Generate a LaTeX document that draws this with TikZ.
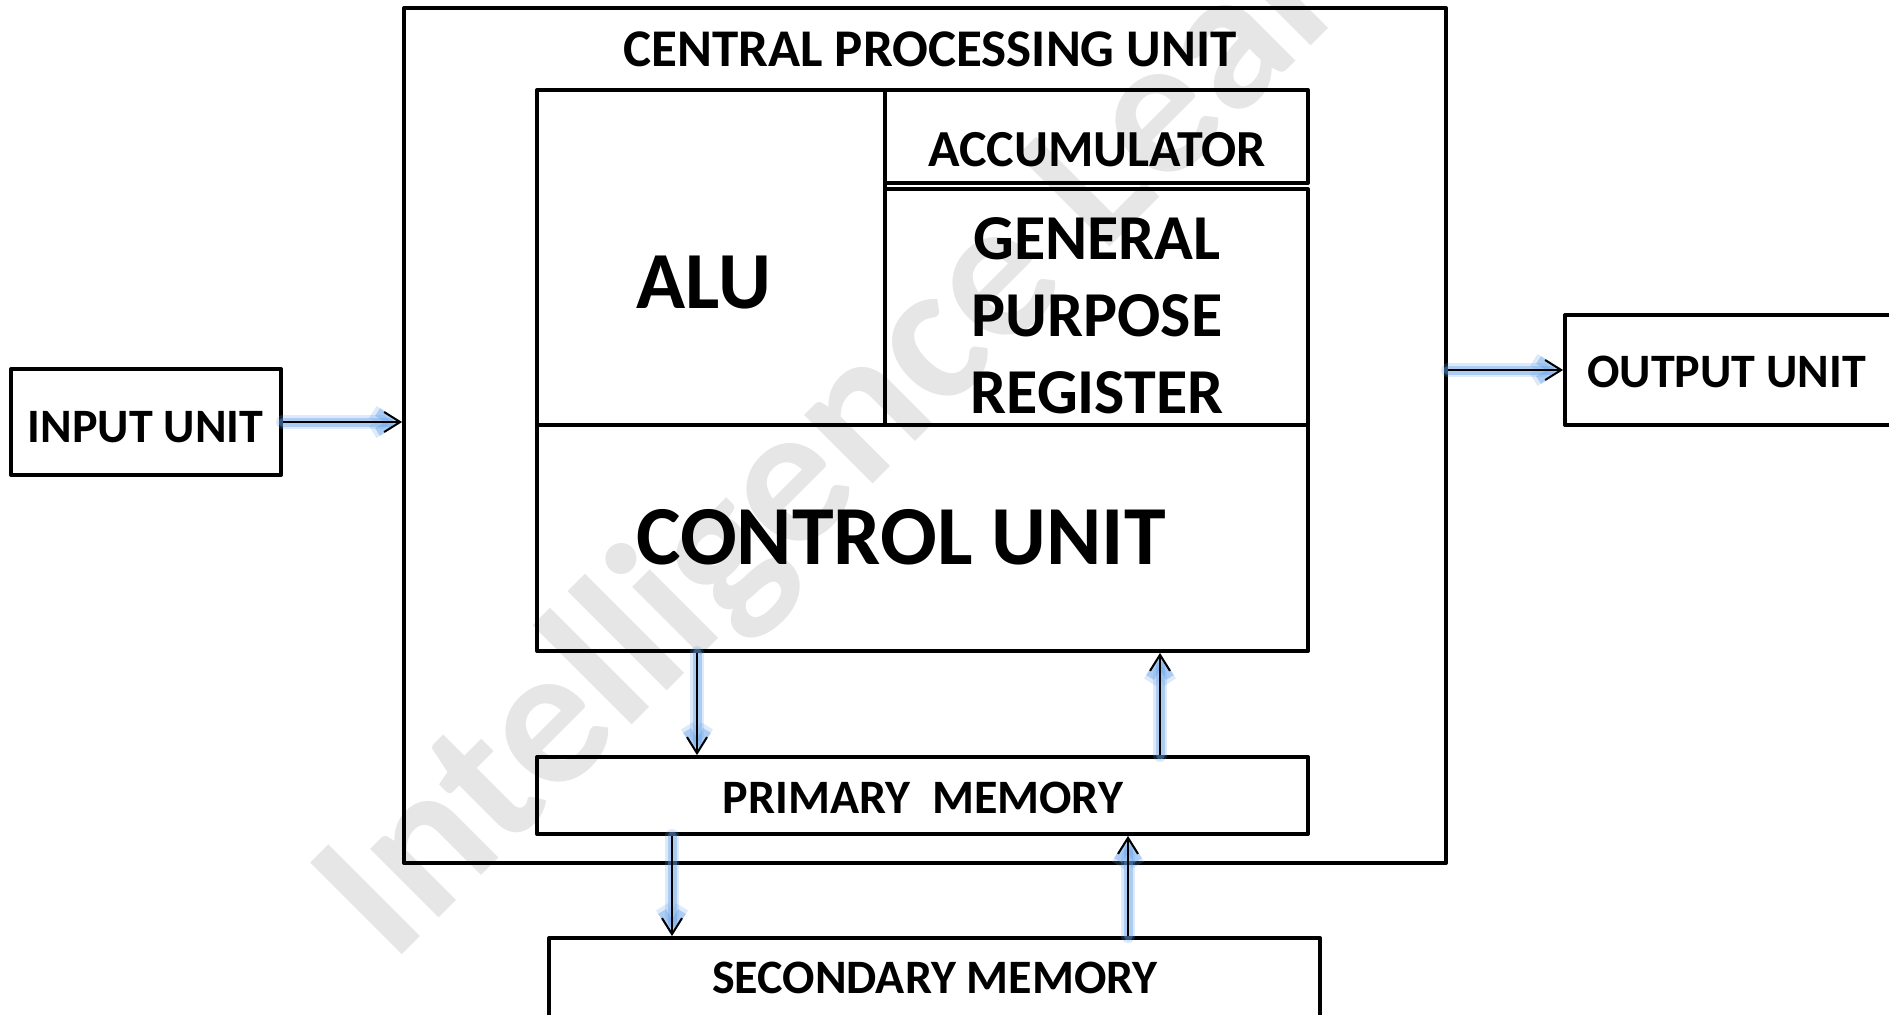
\documentclass[tikz,border=0pt]{standalone}
\usepackage{fontspec}
\setmainfont{Carlito}
\usetikzlibrary{arrows.meta}
\definecolor{glowblue}{RGB}{100,160,232}
\definecolor{wmgray}{RGB}{230,230,230}
\newcommand{\fsz}[2]{\fontsize{#1}{#2}\selectfont}
\begin{document}
\begin{tikzpicture}[x=0.5pt, y=-0.5pt,
  box/.style={draw, line width=2pt, line join=round, inner sep=0pt},
  lbl/.style={inner sep=0pt, font=\bfseries},
  wm/.style={inner sep=0pt, text=wmgray, font=\bfseries\fsz{100}{100}},
  flow/.style={draw, line width=1pt, -{Straight Barb[length=8pt,width=10pt]},
    preaction={draw=glowblue, line width=7pt, opacity=0.22, line cap=round},
    preaction={draw=glowblue, line width=4.5pt, opacity=0.4, line cap=round}}]
\useasboundingbox (0,0) rectangle (1889,1014);
\clip (0,0) rectangle (1889,1014);

% watermark
\node[wm, anchor=base west, rotate=45] (wm) at (392,965) {Intelligence Learning};

% outer processor frame
\node[box, minimum width=521pt, minimum height=427.5pt] (cpu) at (925,435.5) {};
\node[lbl, font=\bfseries\fsz{26.5}{30}] (tcpu) at (930,49.5) {CENTRAL PROCESSING UNIT};

% processor core blocks
\node[box, minimum width=174pt, minimum height=167.5pt] (alu) at (711,257.5) {};
\node[box, minimum width=211.5pt, minimum height=46.5pt] (acc) at (1096.5,136.5) {};
\node[box, minimum width=211.5pt, minimum height=118pt] (gpr) at (1096.5,307) {};
\node[box, minimum width=385.5pt, minimum height=113pt] (cu) at (922.5,538) {};

\node[lbl, font=\bfseries\fsz{40.5}{45}] (talu) at (704,282.5) {ALU};
\node[lbl, font=\bfseries\fsz{26}{30}] (tacc) at (1097,149.5) {ACCUMULATOR};
\node[lbl, font=\bfseries\fsz{32}{38.5}, align=center] (tgpr) at (1097,316) {GENERAL\\PURPOSE\\REGISTER};
\node[lbl, font=\bfseries\fsz{42}{46}] (tcu) at (901,537) {CONTROL UNIT};

% memories
\node[box, minimum width=385.5pt, minimum height=38.5pt] (pm) at (922.5,795.5) {};
\node[lbl, font=\bfseries\fsz{24}{28}] (tpm) at (923,797.5) {PRIMARY\ \ MEMORY};
\node[box, minimum width=385.5pt, minimum height=51pt] (sm) at (934.5,989) {};
\node[lbl, font=\bfseries\fsz{24}{28}] (tsm) at (935,978) {SECONDARY MEMORY};

% input and output
\node[box, minimum width=135pt, minimum height=53pt] (in) at (146,422) {};
\node[lbl, font=\bfseries\fsz{24}{28}] (tin) at (145.5,427) {INPUT UNIT};
\node[box, minimum width=197.5pt, minimum height=55pt] (out) at (1762.5,370) {};
\node[lbl, font=\bfseries\fsz{24}{28}, anchor=west] (tout) at (1587,372) {OUTPUT UNIT};

% data paths
\coordinate (xa) at (697,0);
\coordinate (xb) at (1160,0);
\coordinate (xc) at (672,0);
\coordinate (xd) at (1128,0);
\draw[flow] (in.east) -- (in.east -| cpu.west);
\draw[flow] (out.west -| cpu.east) -- (out.west);
\draw[flow] (xa |- cu.south) -- (xa |- pm.north);
\draw[flow] (xb |- pm.north) -- (xb |- cu.south);
\draw[flow] (xc |- pm.south) -- (xc |- sm.north);
\draw[flow] (xd |- sm.north) -- (xd |- pm.south);
\end{tikzpicture}
\end{document}
